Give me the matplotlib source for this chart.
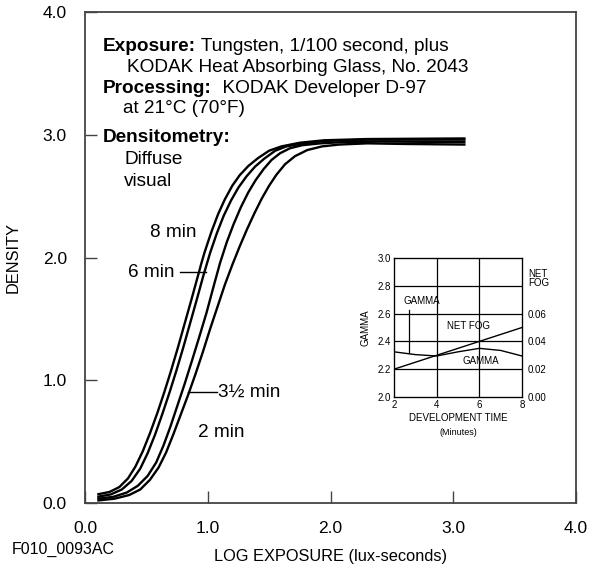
import numpy as np
import matplotlib
matplotlib.use('Agg')
from matplotlib import pyplot as plt

plt.rcParams['font.family'] = ['Liberation Sans', 'DejaVu Sans']

# characteristic curves (log exposure, density)
log_8 = [0.10,0.20,0.28,0.35,0.41,0.47,0.53,0.59,0.645,0.70,0.755,0.81,0.865,0.92,0.95,0.975,1.03,1.085,1.14,1.20,1.26,1.33,1.41,1.50,1.60,1.75,1.95,2.30,3.10]
den_8 = [0.07,0.09,0.13,0.20,0.295,0.42,0.57,0.735,0.90,1.075,1.26,1.455,1.65,1.85,1.96,2.045,2.21,2.355,2.475,2.585,2.67,2.745,2.81,2.87,2.905,2.935,2.955,2.965,2.97]

log_6 = [0.10,0.21,0.30,0.38,0.45,0.51,0.57,0.63,0.69,0.745,0.80,0.855,0.91,0.965,1.02,1.075,1.13,1.19,1.25,1.315,1.385,1.46,1.55,1.64,1.78,1.97,2.30,3.10]
den_6 = [0.05,0.07,0.11,0.18,0.28,0.405,0.555,0.725,0.905,1.08,1.265,1.46,1.655,1.855,2.04,2.20,2.34,2.465,2.57,2.66,2.74,2.805,2.87,2.905,2.93,2.95,2.96,2.96]

log_35 = [0.10,0.23,0.34,0.43,0.51,0.58,0.64,0.695,0.75,0.81,0.87,0.93,0.99,1.045,1.10,1.155,1.21,1.27,1.33,1.39,1.455,1.52,1.59,1.67,1.77,1.92,2.10,2.40,3.10]
den_35 = [0.035,0.05,0.085,0.14,0.22,0.33,0.47,0.62,0.785,0.965,1.155,1.35,1.55,1.755,1.955,2.125,2.27,2.41,2.53,2.63,2.72,2.795,2.85,2.89,2.915,2.93,2.94,2.945,2.94]

log_2 = [0.10,0.24,0.36,0.45,0.53,0.60,0.66,0.72,0.78,0.84,0.90,0.96,1.02,1.08,1.14,1.20,1.26,1.32,1.38,1.44,1.50,1.56,1.63,1.71,1.81,1.93,2.07,2.30,2.60,3.10]
den_2 = [0.02,0.035,0.065,0.11,0.19,0.29,0.41,0.56,0.72,0.88,1.05,1.23,1.42,1.60,1.78,1.94,2.09,2.23,2.36,2.48,2.585,2.675,2.76,2.825,2.875,2.905,2.92,2.93,2.925,2.92]

# inset: gamma and net fog vs development time
dev_time = [2, 3, 4, 5, 6, 7, 8]
gamma = [2.325, 2.305, 2.295, 2.325, 2.35, 2.335, 2.295]
fog_time = [2, 8]
net_fog = [0.02, 0.05]

main_ticks = [0, 1, 2, 3, 4]
main_ticklabels = ['0.0', '1.0', '2.0', '3.0', '4.0']

W, H = 589, 576
fig = plt.figure(figsize=(W/100, H/100), dpi=100)
ax = fig.add_axes([85/W, (H-503)/H, (576-85)/W, (503-12)/H])

for xs, ys in [(log_8, den_8), (log_6, den_6), (log_35, den_35), (log_2, den_2)]:
    ax.plot(xs, ys, color='black', lw=1.7, solid_capstyle='butt')

ax.set_xlim(0, 4)
ax.set_ylim(0, 4)
ax.set_xticks(main_ticks)
ax.set_xticklabels(main_ticklabels)
ax.set_yticks(main_ticks)
ax.set_yticklabels(main_ticklabels)
ax.tick_params(direction='in', length=8.5, width=1, color='#444444', labelsize=12.5, pad=13)
for s in ax.spines.values():
    s.set_color('#444444')
    s.set_linewidth(1.3)
ax.set_xlabel('LOG EXPOSURE (lux-seconds)', fontsize=11.8, labelpad=9)
ax.set_ylabel('DENSITY', fontsize=11.8, labelpad=16)

# text block
fs = 13.7
def bold_line(x, y, b, rest):
    t = ax.text(x, y, b, fontsize=fs, fontweight='bold', va='center', ha='left')
    ax.annotate(rest, xy=(1, 0.5), xycoords=t, va='center', ha='left', fontsize=fs)

bold_line(0.147, 3.72, 'Exposure:', ' Tungsten, 1/100 second, plus')
ax.text(0.342, 3.55, 'KODAK Heat Absorbing Glass, No. 2043', fontsize=fs, va='center')
bold_line(0.147, 3.38, 'Processing:', '  KODAK Developer D-97')
ax.text(0.31, 3.21, 'at 21°C (70°F)', fontsize=fs, va='center')
ax.text(0.147, 2.98, 'Densitometry:', fontsize=fs, fontweight='bold', va='center')
ax.text(0.318, 2.80, 'Diffuse', fontsize=fs, va='center')
ax.text(0.318, 2.62, 'visual', fontsize=fs, va='center')

# curve labels
ax.text(0.53, 2.2, '8 min', fontsize=fs, va='center')
ax.text(0.35, 1.88, '6 min', fontsize=fs, va='center')
ax.plot([0.77, 0.985], [1.88, 1.88], color='black', lw=1)
ax.text(1.085, 0.905, '3½ min', fontsize=fs, va='center')
ax.plot([0.84, 1.075], [0.905, 0.905], color='black', lw=1)
ax.text(0.92, 0.578, '2 min', fontsize=fs, va='center')

fig.text(12/W, 1-549/H, 'F010_0093AC', fontsize=11.5, va='center')

# inset
ax2 = fig.add_axes([394/W, (H-397)/H, (522-394)/W, (397-258)/H])
ax2.set_xlim(2, 8)
ax2.set_ylim(2.0, 3.0)
ax2.set_xticks([2, 4, 6, 8])
ax2.set_yticks([2.0, 2.2, 2.4, 2.6, 2.8, 3.0])
ax2.set_yticklabels(['2.0', '2.2', '2.4', '2.6', '2.8', '3.0'])
ax2.tick_params(length=0, labelsize=7, pad=2)
for v in [2.2, 2.4, 2.6, 2.8]:
    ax2.axhline(v, color='black', lw=0.9)
for v in [4, 6]:
    ax2.axvline(v, color='black', lw=0.9)
for s in ax2.spines.values():
    s.set_linewidth(0.9)
ax2.plot(dev_time, gamma, color='black', lw=1)
ax2.text(0.5, -0.15, 'DEVELOPMENT TIME', transform=ax2.transAxes, fontsize=7, ha='center', va='center')
ax2.text(0.5, -0.255, '(Minutes)', transform=ax2.transAxes, fontsize=6.5, ha='center', va='center')
ax2.set_ylabel('GAMMA', fontsize=7, labelpad=5)
ax2.text(3.3, 2.69, 'GAMMA', fontsize=7, ha='center', va='center')
ax2.plot([2.68, 2.68], [2.625, 2.315], color='black', lw=0.9)
ax2.text(5.47, 2.51, 'NET FOG', fontsize=7, ha='center', va='center')
ax2.text(6.05, 2.26, 'GAMMA', fontsize=7, ha='center', va='center')

ax3 = ax2.twinx()
ax3.set_ylim(0, 0.10)
ax3.set_yticks([0, 0.02, 0.04, 0.06])
ax3.set_yticklabels(['0.00', '0.02', '0.04', '0.06'])
ax3.tick_params(length=0, labelsize=7, pad=4)
ax3.plot(fog_time, net_fog, color='black', lw=1)
ax3.text(1.05, 0.855, 'NET\nFOG', transform=ax2.transAxes, fontsize=7, ha='left', va='center', linespacing=0.9)

fig.savefig('out.png', dpi=100)
